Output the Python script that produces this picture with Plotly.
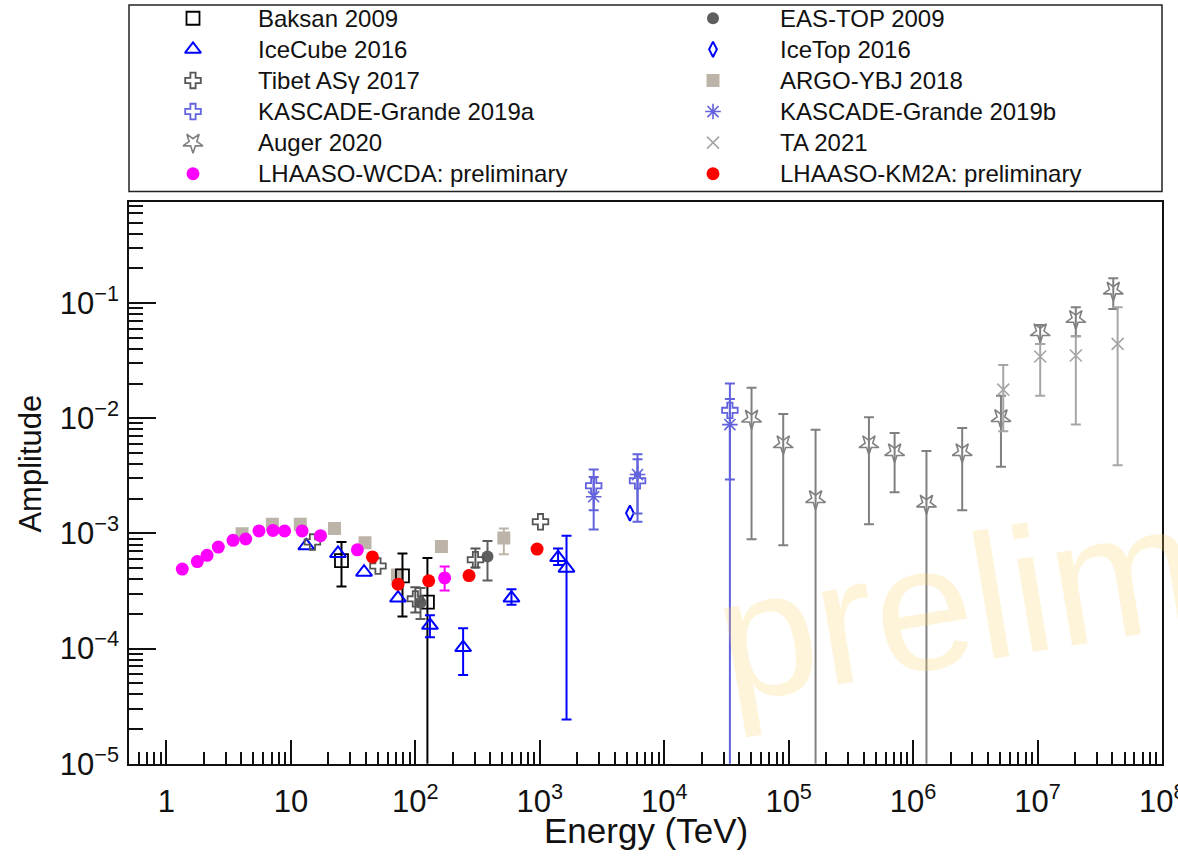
import numpy as np
import plotly.graph_objects as go

W, H = 1178, 858
FONT = "Liberation Sans, Arial, Helvetica, sans-serif"
VS = 1 / 0.982  # vertical layout factor for page-pixel positions

# ---------------- data (energy in TeV, amplitude, error-bar ends) ----------------
baksan_E = [25.5, 78.8, 125]
baksan_A = [5.8e-4, 4.27e-4, 2.53e-4]
baksan_hi = [8.4e-4, 6.7e-4, 6.1e-4]
baksan_lo = [3.46e-4, 1.9e-4, 0.0]

eastop_E = [110, 380]
eastop_A = [2.5e-4, 6.3e-4]
eastop_hi = [3.35e-4, 8.6e-4]
eastop_lo = [1.8e-4, 3.9e-4]

icecube_E = [13.3, 23.9, 38.7, 72.6, 131, 242, 592, 1403, 1640]
icecube_A = [7.8e-4, 6.7e-4, 4.6e-4, 2.74e-4, 1.59e-4, 1.02e-4, 2.74e-4, 6.16e-4, 4.98e-4]
icecube_hi = [None, None, None, None, 1.94e-4, 1.5e-4, 3.27e-4, 7.4e-4, 9.55e-4]
icecube_lo = [None, None, None, None, 1.25e-4, 5.9e-5, 2.4e-4, 5.3e-4, 2.42e-5]

icetop_E = [5300]
icetop_A = [1.5e-3]
icetop_hi = [None]
icetop_lo = [None]

tibet_E = [14.9, 50.1, 100, 304, 1013]
tibet_A = [8.4e-4, 5.2e-4, 2.7e-4, 5.9e-4, 1.26e-3]
tibet_hi = [None, None, 3.4e-4, 7.4e-4, None]
tibet_lo = [None, None, 2.05e-4, 5.06e-4, None]

argo_E = [4.05, 7.1, 11.9, 22.4, 39.4, 71.8, 162, 514]
argo_A = [9.9e-4, 1.2e-3, 1.2e-3, 1.1e-3, 8.3e-4, 4.35e-4, 7.7e-4, 9.1e-4]
argo_hi = [None, None, None, None, None, None, None, 1.1e-3]
argo_lo = [None, None, None, None, None, None, None, 6.6e-4]

kgA_E = [2710, 6100, 33700]
kgA_A = [2.59e-3, 2.86e-3, 1.17e-2]
kgA_hi = [3.58e-3, 4.4e-3, 2.0e-2]
kgA_lo = [1.59e-3, 1.26e-3, 0.0]

kgB_E = [2710, 6100, 33700]
kgB_A = [2.08e-3, 3.24e-3, 8.8e-3]
kgB_hi = [3.08e-3, 4.86e-3, 1.47e-2]
kgB_lo = [1.08e-3, 1.49e-3, 2.94e-3]

auger_E = [5.03e4, 9.04e4, 1.645e5, 4.415e5, 7.1e5, 1.28e6, 2.48e6, 5.08e6, 1.05e7, 2.03e7, 4.06e7]
auger_A = [9.9e-3, 5.93e-3, 1.98e-3, 5.93e-3, 5.06e-3, 1.81e-3, 5.06e-3, 1.0e-2, 5.57e-2, 7.26e-2, 0.128]
auger_hi = [1.84e-2, 1.09e-2, 7.95e-3, 1.02e-2, 7.45e-3, 5.2e-3, 8.2e-3, 1.57e-2, 6.46e-2, 9.2e-2, 0.164]
auger_lo = [8.9e-4, 7.9e-4, 0.0, 1.2e-3, 2.28e-3, 0.0, 1.59e-3, 3.78e-3, 4.4e-2, 5.15e-2, 8.87e-2]

ta_E = [5.3e6, 1.05e7, 2.03e7, 4.4e7]
ta_A = [1.77e-2, 3.43e-2, 3.5e-2, 4.42e-2]
ta_hi = [2.9e-2, 4.4e-2, 5.15e-2, 9.2e-2]
ta_lo = [7.7e-3, 1.57e-2, 8.8e-3, 3.9e-3]

wcda_E = [1.34, 1.77, 2.12, 2.61, 3.43, 4.33, 5.54, 7.18, 8.9, 12.3, 17.3, 34.2, 172]
wcda_A = [4.9e-4, 5.69e-4, 6.45e-4, 7.6e-4, 8.7e-4, 8.93e-4, 1.05e-3, 1.06e-3, 1.05e-3,
          1.05e-3, 9.55e-4, 7.2e-4, 4.1e-4]
wcda_hi = [None] * 12 + [5.15e-4]
wcda_lo = [None] * 12 + [3.19e-4]

km2a_E = [45.2, 72.6, 128, 270, 951]
km2a_A = [6.24e-4, 3.62e-4, 3.87e-4, 4.3e-4, 7.3e-4]
km2a_hi = [None] * 5
km2a_lo = [None] * 5

x_tick_vals = [10.0 ** k for k in range(0, 9)]
x_tick_text = ["1", "10"] + ["10<sup>%d</sup>" % k for k in range(2, 9)]
y_tick_vals = [10.0 ** k for k in range(-5, 0)]
y_tick_text = ["10<sup>\u2212%d</sup>" % k for k in range(5, 0, -1)]

# ---------------- series styles ----------------
series = [
    dict(name="ARGO-YBJ 2018", E=argo_E, A=argo_A, hi=argo_hi, lo=argo_lo,
         color="#bdb4a9", symbol="square", size=13, lw=0),
    dict(name="Baksan 2009", E=baksan_E, A=baksan_A, hi=baksan_hi, lo=baksan_lo,
         color="#000000", symbol="square-open", size=13, lw=1.8),
    dict(name="EAS-TOP 2009", E=eastop_E, A=eastop_A, hi=eastop_hi, lo=eastop_lo,
         color="#5e5e5e", symbol="circle", size=12, lw=0),
    dict(name="IceCube 2016", E=icecube_E, A=icecube_A, hi=icecube_hi, lo=icecube_lo,
         color="#0000ff", symbol="triangle-up-open", size=14, lw=2),
    dict(name="IceTop 2016", E=icetop_E, A=icetop_A, hi=icetop_hi, lo=icetop_lo,
         color="#0000ff", symbol="diamond-tall-open", size=11, lw=2),
    dict(name="Tibet AS\u03b3 2017", E=tibet_E, A=tibet_A, hi=tibet_hi, lo=tibet_lo,
         color="#555555", symbol="cross-open", size=13, lw=1.8),
    dict(name="KASCADE-Grande 2019a", E=kgA_E, A=kgA_A, hi=kgA_hi, lo=kgA_lo,
         color="#6262dc", symbol="cross-open", size=13, lw=1.8),
    dict(name="KASCADE-Grande 2019b", E=kgB_E, A=kgB_A, hi=kgB_hi, lo=kgB_lo,
         color="#6262dc", symbol="asterisk-open", size=13, lw=1.6),
    dict(name="Auger 2020", E=auger_E, A=auger_A, hi=auger_hi, lo=auger_lo,
         color="#808080", symbol="star-open", size=15, lw=1.6, angle=180),
    dict(name="TA 2021", E=ta_E, A=ta_A, hi=ta_hi, lo=ta_lo,
         color="#a6a6a6", symbol="x-thin-open", size=12, lw=1.6),
    dict(name="LHAASO-WCDA: preliminary", E=wcda_E, A=wcda_A, hi=wcda_hi, lo=wcda_lo,
         color="#ff00ff", symbol="circle", size=13, lw=0),
    dict(name="LHAASO-KM2A: preliminary", E=km2a_E, A=km2a_A, hi=km2a_hi, lo=km2a_lo,
         color="#ff0000", symbol="circle", size=13, lw=0),
]

legend_order = [
    "Baksan 2009", "EAS-TOP 2009",
    "IceCube 2016", "IceTop 2016",
    "Tibet AS\u03b3 2017", "ARGO-YBJ 2018",
    "KASCADE-Grande 2019a", "KASCADE-Grande 2019b",
    "Auger 2020", "TA 2021",
    "LHAASO-WCDA: preliminary", "LHAASO-KM2A: preliminary",
]


def marker_of(s):
    m = dict(symbol=s["symbol"], size=s["size"], color=s["color"],
             line=dict(color=s["color"], width=s["lw"]))
    if "angle" in s:
        m["angle"] = s["angle"]
    return m


def py(y):
    """page pixel row -> paper fraction"""
    return 1 - (y * VS) / H


fig = go.Figure()

for s in series:
    E = np.asarray(s["E"], float)
    A = np.asarray(s["A"], float)
    has = np.array([h is not None for h in s["hi"]])
    hi = np.array([h if h is not None else np.nan for h in s["hi"]], float)
    lo = np.array([v if v is not None else np.nan for v in s["lo"]], float)
    if (~has).any():
        fig.add_trace(go.Scatter(x=E[~has], y=A[~has], mode="markers",
                                 marker=marker_of(s), showlegend=False,
                                 cliponaxis=True, xaxis="x", yaxis="y"))
    if has.any():
        fig.add_trace(go.Scatter(
            x=E[has], y=A[has], mode="markers", marker=marker_of(s),
            error_y=dict(type="data", symmetric=False,
                         array=hi[has] - A[has], arrayminus=A[has] - lo[has],
                         color=s["color"], thickness=2, width=5),
            showlegend=False, cliponaxis=True, xaxis="x", yaxis="y"))

# ---------------- hand-made two-column legend ----------------
style_by_name = {s["name"]: s for s in series}
row0, row_step = 18.3, 31.2
col_marker_x = [193, 713]
col_text_x = [256, 778]
annotations = []
for i, name in enumerate(legend_order):
    col, row = i % 2, i // 2
    yy = (row0 + row * row_step) * VS
    s = style_by_name[name]
    fig.add_trace(go.Scatter(x=[col_marker_x[col]], y=[yy], mode="markers",
                             marker=marker_of(s), showlegend=False, hoverinfo="skip",
                             xaxis="x2", yaxis="y2"))
    annotations.append(dict(text=name, x=col_text_x[col] / W, y=1 - yy / H,
                            xref="paper", yref="paper", xanchor="left",
                            yanchor="middle", showarrow=False,
                            font=dict(family=FONT, size=24, color="#111111")))

# last x tick label sits on the frame corner and runs off the page edge
annotations.append(dict(text=x_tick_text[-1], x=1162 / W, y=py(801),
                        xref="paper", yref="paper", xanchor="center",
                        yanchor="middle", showarrow=False,
                        font=dict(family=FONT, size=31, color="#111111")))

# axis titles
annotations.append(dict(text="Energy (TeV)", x=646 / W, y=py(833),
                        xref="paper", yref="paper", xanchor="center",
                        yanchor="middle", showarrow=False,
                        font=dict(family=FONT, size=35, color="#111111")))
annotations.append(dict(text="Amplitude", x=31 / W, y=py(465),
                        xref="paper", yref="paper", xanchor="center",
                        yanchor="middle", showarrow=False, textangle=-90,
                        font=dict(family=FONT, size=31, color="#111111")))

# watermark
annotations.append(dict(text="preliminary", x=1147 / W, y=py(572),
                        xref="paper", yref="paper", xanchor="center",
                        yanchor="middle", showarrow=False, textangle=-9.5,
                        font=dict(family=FONT, size=178,
                                  color="rgba(250,208,100,0.24)")))

x_minor = [m * 10.0 ** k for k in range(-1, 8) for m in range(2, 10)
           if 0.5 <= m * 10.0 ** k <= 1e8]
y_minor = [m * 10.0 ** k for k in range(-5, 0) for m in range(2, 10)
           if m * 10.0 ** k <= 0.75]

x0, x1 = 129 / W, 1162 / W
y0, y1 = py(766), py(203)

fig.update_layout(
    width=W, height=H, autosize=False,
    margin=dict(l=0, r=0, t=0, b=0, pad=0),
    paper_bgcolor="white", plot_bgcolor="rgba(0,0,0,0)",
    font=dict(family=FONT, color="#111111"),
    showlegend=False,
    xaxis=dict(type="log", domain=[x0, x1], range=[np.log10(0.5), 8.0],
               anchor="y",
               tickvals=x_tick_vals[:-1], ticktext=x_tick_text[:-1],
               ticks="inside", ticklen=24, tickwidth=1.5, tickcolor="#111111",
               minor=dict(tickvals=x_minor, ticks="inside", ticklen=12,
                          tickwidth=1.5, tickcolor="#111111", showgrid=False),
               tickfont=dict(family=FONT, size=31, color="#111111"),
               ticklabelstandoff=9,
               showline=True, linecolor="#111111", linewidth=1.5, mirror=True,
               showgrid=False, zeroline=False),
    yaxis=dict(type="log", domain=[y0, y1], range=[-5.0, -0.126],
               anchor="x",
               tickvals=y_tick_vals, ticktext=y_tick_text,
               ticks="inside", ticklen=27, tickwidth=1.5, tickcolor="#111111",
               minor=dict(tickvals=y_minor, ticks="inside", ticklen=14,
                          tickwidth=1.5, tickcolor="#111111", showgrid=False),
               tickfont=dict(family=FONT, size=31, color="#111111"),
               ticklabelstandoff=2,
               showline=True, linecolor="#111111", linewidth=1.5, mirror=True,
               showgrid=False, zeroline=False),
    xaxis2=dict(domain=[0, 1], range=[0, W], anchor="y2", visible=False,
                fixedrange=True),
    yaxis2=dict(domain=[0, 1], range=[H, 0], anchor="x2", visible=False,
                fixedrange=True),
    shapes=[dict(type="rect", xref="paper", yref="paper",
                 x0=129 / W, x1=1162 / W, y0=py(192), y1=py(5),
                 line=dict(color="#222222", width=1.5), fillcolor="rgba(0,0,0,0)")],
    annotations=annotations,
)

fig.write_html("out.html", config={"displayModeBar": False})
